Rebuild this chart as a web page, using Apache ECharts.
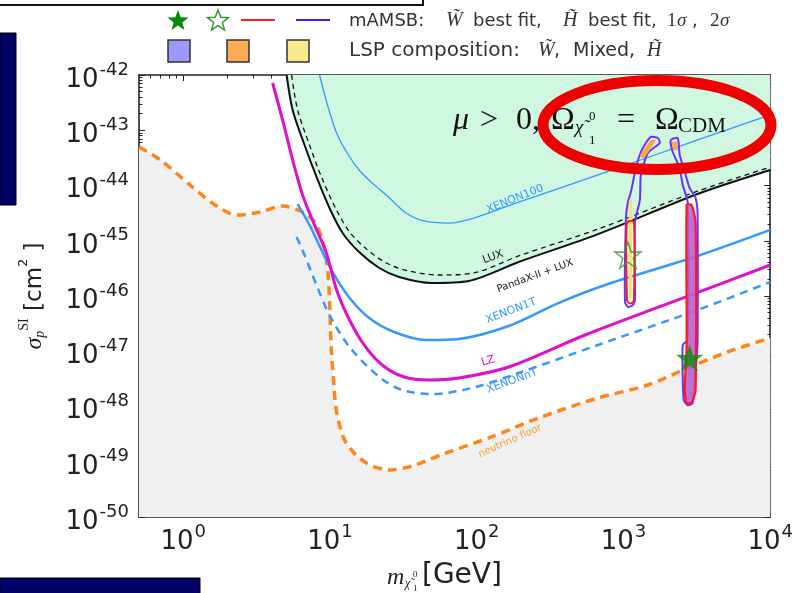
<!DOCTYPE html>
<html><head><meta charset="utf-8">
<script src="https://cdn.jsdelivr.net/npm/echarts@6/dist/echarts.min.js"></script>
<style>html,body{margin:0;padding:0;background:#fff}#c{width:796px;height:593px}</style>
</head><body><div id="c"></div><script>
// ---------- data (mass in GeV, cross-section in cm^2) ----------
const xTickExponents = [0, 1, 2, 3, 4];
const yTickExponents = [-50, -49, -48, -47, -46, -45, -44, -43, -42];
const massMin = 0.5, massMax = 1e4, sigmaMin = 1e-50, sigmaMax = 1e-42;

const neutrinoFloor = [[0.5,4.98e-44],[0.698,2.90e-44],[1.115,1.02e-44],[1.648,4.44e-45],[2.32,2.92e-45],[3.33,3.31e-45],[4.76,4.26e-45],[6.51,3.31e-45],[7.85,2.18e-45],[8.89,1.03e-45],[9.61,3.35e-46],[9.93,8.47e-47],[10.2,1.19e-47],[10.7,1.99e-48],[11.2,7.02e-49],[12.9,2.18e-49],[17.7,9.5e-50],[25.3,7.1e-50],[36.2,8.4e-50],[61.6,1.44e-49],[126,2.81e-49],[263,6.19e-49],[671,1.43e-48],[1466,2.45e-48],[2735,4.98e-48],[5105,9.69e-48],[10000,1.74e-47]];
const luxLimit = [[5.07,1e-42],[5.57,2.33e-43],[6.71,5.41e-44],[8.10,1.43e-44],[9.93,3.92e-45],[12.2,1.38e-45],[15.8,6.25e-46],[21.7,3.21e-46],[29.6,2.21e-46],[49.5,1.72e-46],[88.3,1.87e-46],[193,4.12e-46],[671,1.32e-45],[3199,7.02e-45],[10000,1.91e-44]];
const pandaxLuxLimit = [[5.48,1e-42],[6.02,2.33e-43],[7.26,5.41e-44],[8.75,1.43e-44],[10.9,3.92e-45],[13.6,1.44e-45],[17.7,7.1e-46],[24.2,3.95e-46],[34.6,2.83e-46],[55.3,2.40e-46],[95.5,2.61e-46],[193,5.3e-46],[671,1.63e-45],[3199,7.9e-45],[10000,2.16e-44]];
const xenon100Limit = [[8.49,1e-42],[9.62,2.86e-43],[11.1,8.91e-44],[13.1,3.87e-44],[15.8,1.91e-44],[19.4,1.11e-44],[24.2,6.73e-45],[33.0,3.18e-45],[43.7,2.28e-45],[64.6,2.09e-45],[95.5,2.58e-45],[193,5.02e-45],[671,1.55e-44],[3199,6.67e-44],[10000,1.89e-43]];
const xenon1TLimit = [[6.02,4.62e-45],[7.26,1.93e-45],[8.75,6.81e-46],[10.7,2.40e-46],[13.6,9.2e-47],[18.5,4.0e-47],[27.4,2.23e-47],[45.1,1.6e-47],[75.5,1.67e-47],[165,2.86e-47],[360,7.46e-47],[785,1.65e-46],[3199,5.30e-46],[10000,1.57e-45]];
const lzLimit = [[4.07,7.17e-43],[4.76,1.53e-43],[5.57,2.90e-44],[6.51,6.73e-45],[7.85,1.93e-45],[9.46,6.0e-46],[11.1,1.29e-46],[13.6,3.68e-47],[17.1,1.30e-47],[22.7,5.64e-48],[32.0,3.42e-48],[47.3,3.02e-48],[75.5,3.28e-48],[165,5.19e-48],[548,1.97e-47],[2871,1.04e-46],[10000,3.64e-46]];
const xenonnTLimit = [[5.93,1.17e-45],[6.71,5.52e-46],[8.10,1.58e-46],[9.93,4.53e-47],[13.6,1.19e-47],[21.7,3.42e-48],[31.0,1.99e-48],[49.5,1.68e-48],[92.5,2.16e-48],[193,4.04e-48],[671,1.30e-47],[3199,5.58e-47],[10000,1.79e-46]];

// mAMSB contours
const higgsino2Sigma = [[1536,7.55e-44],[1713,7.24e-44],[1768,5.88e-44],[1466,3.88e-44],[1314,1.55e-44],[1294,5.46e-45],[1197,2.18e-45],[1197,8.46e-47],[1160,6.87e-47],[1073,6.32e-47],[1024,7.79e-47],[1040,2.58e-45],[1073,5.03e-45],[1124,7.63e-45],[1215,2.07e-44],[1314,4.04e-44],[1421,5.88e-44]];
const higgsino1Sigma = [[1056,2.18e-45],[1178,2.18e-45],[1178,8.46e-47],[1142,7.47e-47],[1090,7.47e-47],[1056,8.46e-47]];
const higgsinoRegion = [[1090,5.46e-45],[1142,5.46e-45],[1142,9.2e-47],[1090,9.2e-47]];
const higgsinoMixed = [[1536,6.66e-44],[1661,6.66e-44],[1377,3.15e-44],[1294,3.42e-44]];
const wino2Sigma = [[2099,6.66e-44],[2342,7.24e-44],[2416,3.56e-44],[2653,1.55e-44],[2824,9.01e-45],[3101,5.94e-45],[3200,2.92e-45],[3200,1.41e-47],[3101,4.58e-48],[2960,1.16e-48],[2737,1.06e-48],[2572,1.31e-48],[2532,1.30e-47],[2737,1.60e-47],[2737,5.03e-45],[2532,1.02e-44],[2416,2.07e-44],[2166,4.04e-44]];
const wino1Sigma = [[2695,4.44e-45],[2913,4.44e-45],[3101,2.18e-45],[3101,1.99e-48],[2913,1.16e-48],[2695,1.16e-48],[2612,1.99e-48],[2695,1.30e-47]];
const winoMixed = [[2132,6.13e-44],[2306,6.13e-44],[2342,4.39e-44],[2200,4.39e-44]];
const winoBestFit = [2824, 7.55e-48];
const higgsinoBestFit = [1073, 5.52e-46];

// ---------- helpers ----------
const L = Math.log10;
const xy = arr => arr.map(p => [L(p[0]), L(p[1])]);
const AX = '#222';
const STAR = 'path://M50,0 L61.8,35.3 L97.6,34.5 L69.1,56.2 L79.4,90.5 L50,70 L20.6,90.5 L30.9,56.2 L2.4,34.5 L38.2,35.3 Z';

function minorList(lo, hi) {
  const out = [];
  for (let e = lo; e < hi; e++) for (let k = 2; k <= 9; k++) out.push(e + L(k));
  return out;
}
const xMinor = minorList(-1, 4).filter(v => v > L(massMin) + 1e-6);
const yMinor = minorList(-50, -42);

const tickRich = {
  b: {fontSize: 26, fontFamily: 'DejaVu Sans', color: AX, lineHeight: 36, verticalAlign: 'bottom'},
  s: {fontSize: 18, fontFamily: 'DejaVu Sans', color: AX, lineHeight: 18, verticalAlign: 'top', padding: [4, 0, 0, 1]}
};
const fmt = v => '{b|10}{s|' + Math.round(v) + '}';

function xAx(grid, pos, major, labels) {
  return {
    gridIndex: grid, type: 'value', position: pos, min: L(massMin), max: L(massMax),
    axisLine: {show: grid === 0, onZero: false, lineStyle: {color: AX, width: 1.6}},
    axisTick: {show: true, inside: true, length: major ? 6 : 3.5, customValues: major ? xTickExponents : xMinor, lineStyle: {color: AX, width: 1}},
    axisLabel: labels ? {show: true, customValues: xTickExponents, formatter: fmt, rich: tickRich, margin: 2, verticalAlign: 'top'} : {show: false},
    splitLine: {show: false}
  };
}
function yAx(grid, pos, major, labels) {
  return {
    gridIndex: grid, type: 'value', position: pos, min: L(sigmaMin), max: L(sigmaMax),
    axisLine: {show: grid === 0, onZero: false, lineStyle: {color: AX, width: 1.6}},
    axisTick: {show: true, inside: true, length: major ? 6 : 3.5, customValues: major ? yTickExponents : yMinor, lineStyle: {color: AX, width: 1}},
    axisLabel: labels ? {show: true, customValues: yTickExponents, formatter: fmt, rich: tickRich, margin: 10} : {show: false},
    splitLine: {show: false}
  };
}

function line(data, color, width, type, extra) {
  return Object.assign({
    type: 'line', xAxisIndex: 0, yAxisIndex: 0, data: xy(data), symbol: 'none', silent: true,
    smooth: 0.3, clip: true,
    lineStyle: {color: color, width: width, type: type || 'solid', cap: 'butt'}
  }, extra || {});
}
function poly(points, style, z) {
  const d = xy(points);
  return {
    type: 'custom', xAxisIndex: 0, yAxisIndex: 0, z: z, silent: true, data: [d[0]],
    renderItem: (params, api) => ({
      type: 'polygon',
      shape: {points: d.map(p => api.coord(p)), smooth: 0.2},
      style: style
    })
  };
}

const series = [
  line(neutrinoFloor, '#ff8419', 3.5, [9, 6], {z: 3, areaStyle: {color: '#f0f0f0', origin: 'start', opacity: 1}}),
  line(luxLimit, '#111', 2, 'solid', {z: 4, areaStyle: {color: '#d0f8e0', origin: 'end', opacity: 1}}),
  line(pandaxLuxLimit, '#111', 1.3, [5, 4], {z: 5}),
  line(xenon100Limit, '#3399ff', 1.3, 'solid', {z: 5}),
  line(xenon1TLimit, '#3399ff', 2.5, 'solid', {z: 5}),
  line(lzLimit, '#dd11cc', 3, 'solid', {z: 5}),
  line(xenonnTLimit, '#3399ff', 2.5, [8, 6], {z: 5}),
  poly(higgsino2Sigma, {fill: 'rgba(255,255,255,0)', stroke: '#6633ff', lineWidth: 2}, 6),
  poly(higgsinoRegion, {fill: '#f3e27a', stroke: null}, 7),
  poly(higgsinoMixed, {fill: '#ffa64d', stroke: null}, 7),
  poly(higgsino1Sigma, {fill: 'rgba(255,255,255,0)', stroke: '#ff1a1a', lineWidth: 2}, 8),
  poly(wino2Sigma, {fill: 'rgba(255,255,255,0)', stroke: '#6633ff', lineWidth: 2}, 6),
  poly(wino1Sigma, {fill: 'rgba(185,95,205,0.9)', stroke: '#ff1a1a', lineWidth: 2.2}, 8),
  poly(winoMixed, {fill: '#ffa64d', stroke: null}, 7),
  {type: 'scatter', xAxisIndex: 0, yAxisIndex: 0, z: 10, silent: true, symbol: STAR, symbolSize: 27,
   data: xy([winoBestFit]), itemStyle: {color: '#0a8a0a'}},
  {type: 'scatter', xAxisIndex: 0, yAxisIndex: 0, z: 10, silent: true, symbol: STAR, symbolSize: 26,
   data: xy([higgsinoBestFit]), itemStyle: {color: 'rgba(0,0,0,0)', borderColor: '#2f9a2f', borderWidth: 1.5}}
];

// ---------- decorations ----------
function starPts(cx, cy, r) {
  const pts = [];
  for (let i = 0; i < 10; i++) {
    const a = -Math.PI / 2 + i * Math.PI / 5;
    const rr = i % 2 ? r * 0.42 : r;
    pts.push([cx + rr * Math.cos(a), cy + rr * Math.sin(a)]);
  }
  return pts;
}
const sans = 'DejaVu Sans';
const deg = d => d * Math.PI / 180;
function lab(text, x, y, rot, color, size) {
  return {type: 'text', x: x, y: y, rotation: deg(rot), z: 20,
    style: {text: text, fill: color, fontFamily: sans, fontSize: size || 11, align: 'center', verticalAlign: 'middle'}};
}
function mt(text, x, y, size, italic, color) {
  return {type: 'text', x: x, y: y, z: 20,
    style: {text: text, fill: color || '#111', fontFamily: 'Liberation Serif', fontStyle: italic ? 'italic' : 'normal', fontSize: size, align: 'left', verticalAlign: 'middle'}};
}
function st(text, x, y, size) {
  return {type: 'text', x: x, y: y, z: 20,
    style: {text: text, fill: '#333', fontFamily: sans, fontSize: size, align: 'left', verticalAlign: 'middle'}};
}

const graphic = [
  {type: 'polyline', shape: {points: [[0, 5], [423, 5], [423, 0]]}, style: {stroke: '#111', lineWidth: 2, fill: null}, z: 20},
  {type: 'rect', shape: {x: 0, y: 33, width: 16, height: 172}, style: {fill: '#000066', stroke: '#000', lineWidth: 1}, z: 20},
  {type: 'rect', shape: {x: 0, y: 578, width: 200, height: 20}, style: {fill: '#000066', stroke: '#000', lineWidth: 1}, z: 20},
  // legend row 1
  {type: 'polygon', shape: {points: starPts(178, 21, 11)}, style: {fill: '#0a8a0a'}, z: 20},
  {type: 'polygon', shape: {points: starPts(218, 21, 11)}, style: {fill: null, stroke: '#2f9a2f', lineWidth: 1.5}, z: 20},
  {type: 'line', shape: {x1: 241, y1: 20, x2: 275, y2: 20}, style: {stroke: '#ff1a1a', lineWidth: 2}, z: 20},
  {type: 'line', shape: {x1: 296, y1: 20, x2: 330, y2: 20}, style: {stroke: '#3322ff', lineWidth: 2}, z: 20},
  st('mAMSB:', 349, 21, 18),
  mt('W̃', 446, 21, 20, true, '#333'),
  st('best fit,', 473, 21, 18),
  mt('H̃', 563, 21, 20, true, '#333'),
  st('best fit,', 588, 21, 18),
  mt('1', 667, 21, 19, false, '#333'),
  mt('σ', 677, 21, 19, true, '#333'),
  st(',', 692, 21, 18),
  mt('2', 710, 21, 19, false, '#333'),
  mt('σ', 720, 21, 19, true, '#333'),
  // legend row 2
  {type: 'rect', shape: {x: 168, y: 40, width: 22, height: 22}, style: {fill: '#9999ff', stroke: '#333', lineWidth: 1.5}, z: 20},
  {type: 'rect', shape: {x: 227, y: 40, width: 22, height: 22}, style: {fill: '#ffaa55', stroke: '#333', lineWidth: 1.5}, z: 20},
  {type: 'rect', shape: {x: 287, y: 40, width: 22, height: 22}, style: {fill: '#f7e98c', stroke: '#333', lineWidth: 1.5}, z: 20},
  st('LSP composition:', 349, 51, 20),
  mt('W̃', 538, 51, 20, true, '#333'),
  st(',', 554, 51, 19),
  st('Mixed,', 573, 51, 19),
  mt('H̃', 647, 51, 20, true, '#333'),
  // curve labels
  lab('XENON100', 515, 199, 22, '#3399ff', 11),
  lab('LUX', 493, 257, 20, '#222', 11),
  lab('PandaX-II + LUX', 535, 276, 20, '#222', 10),
  lab('XENON1T', 511, 311, 21, '#3399ff', 11),
  lab('LZ', 488, 361, 15, '#dd11cc', 11),
  lab('XENONnT', 512, 381, 20, '#3399ff', 11),
  lab('neutrino floor', 510, 441, 24, '#f5a030', 10),
  // relic density annotation
  mt('μ', 453, 121, 32, true),
  mt('>', 480, 121, 32, false),
  mt('0,', 516, 121, 32, false),
  mt('Ω', 551, 121, 32, false),
  mt('χ̃', 575, 128, 19, true),
  mt('0', 589, 117, 13, false),
  mt('1', 589, 141, 13, false),
  mt('=', 617, 121, 32, false),
  mt('Ω', 655, 121, 32, false),
  mt('CDM', 678, 126, 21, false),
  {type: 'ellipse', shape: {cx: 657, cy: 125, rx: 114, ry: 44.5}, style: {fill: null, stroke: '#ee0000', lineWidth: 11}, z: 30},
  // axis titles
  {type: 'text', x: 32, y: 296, rotation: Math.PI / 2, z: 20, style: {
    text: '{g|σ}{sb|p}{sp|SI}{n| [cm}{sp2|2}{n| ]}', align: 'center', verticalAlign: 'middle',
    rich: {
      g: {fontFamily: 'Liberation Serif', fontStyle: 'italic', fontSize: 24, fill: '#222', lineHeight: 30, verticalAlign: 'bottom'},
      sb: {fontFamily: 'Liberation Serif', fontStyle: 'italic', fontSize: 14, fill: '#222', lineHeight: 14, verticalAlign: 'bottom'},
      sp: {fontFamily: 'Liberation Serif', fontSize: 14, fill: '#222', lineHeight: 14, verticalAlign: 'top'},
      n: {fontFamily: sans, fontSize: 23, fill: '#222', lineHeight: 30, verticalAlign: 'bottom'},
      sp2: {fontFamily: sans, fontSize: 13, fill: '#222', lineHeight: 14, verticalAlign: 'top'}
    }}},
  mt('m', 387, 578, 24, true, '#222'),
  mt('χ̃', 405, 584, 12, true, '#222'),
  mt('0', 413, 575, 9, false, '#222'),
  mt('1', 413, 589, 9, false, '#222'),
  {type: 'text', x: 422, y: 576, z: 20, style: {text: '[GeV]', fill: '#222', fontFamily: sans, fontSize: 28, align: 'left', verticalAlign: 'middle'}}
];

const chart = echarts.init(document.getElementById('c'), null, {renderer: 'canvas'});
chart.setOption({
  animation: false,
  backgroundColor: '#fff',
  grid: [
    {left: 139, top: 75, width: 632, height: 442, containLabel: false},
    {left: 139, top: 75, width: 632, height: 442, containLabel: false}
  ],
  xAxis: [xAx(0, 'bottom', true, true), xAx(0, 'top', true, false), xAx(1, 'bottom', false, false), xAx(1, 'top', false, false)],
  yAxis: [yAx(0, 'left', true, true), yAx(0, 'right', true, false), yAx(1, 'left', false, false), yAx(1, 'right', false, false)],
  series: series,
  graphic: graphic
});
</script></body></html>
